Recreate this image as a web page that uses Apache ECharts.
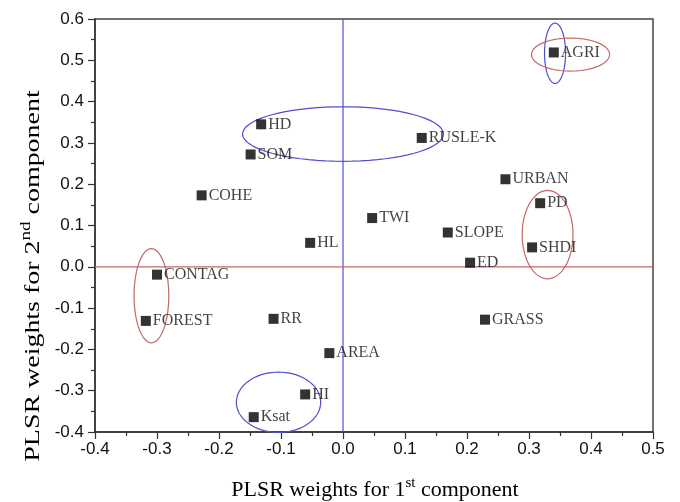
<!DOCTYPE html>
<html>
<head>
<meta charset="utf-8">
<script src="https://cdn.jsdelivr.net/npm/echarts@6/dist/echarts.min.js"></script>
<style>html,body{margin:0;padding:0;background:#fff}#c{width:680px;height:502px}</style>
</head>
<body>
<div id="c"></div>
<script>
// Variable names and their PLSR weights
var names = ['HD','SOM','COHE','HL','TWI','AGRI','RUSLE-K','URBAN','PD','SLOPE','SHDI','ED','GRASS','CONTAG','FOREST','RR','AREA','HI','Ksat'];
var w1 = [-0.132,-0.149,-0.228,-0.053,0.047,0.340,0.127,0.262,0.318,0.169,0.305,0.205,0.229,-0.300,-0.318,-0.112,-0.022,-0.061,-0.144];
var w2 = [0.345,0.272,0.173,0.058,0.118,0.519,0.312,0.212,0.154,0.083,0.047,0.010,-0.128,-0.019,-0.131,-0.126,-0.209,-0.309,-0.364];

// Highlight ellipses (centre and radii in data units)
var ellCx = [0.000, 0.342, 0.367, 0.330, -0.309, -0.104];
var ellCy = [0.3215, 0.517, 0.514, 0.078, -0.070, -0.328];
var ellRx = [0.162, 0.017, 0.063, 0.041, 0.028, 0.068];
var ellRy = [0.066, 0.073, 0.040, 0.107, 0.114, 0.073];
var ellColor = ['blue','blue','red','red','red','blue'];

var xTicks = [-0.4,-0.3,-0.2,-0.1,0.0,0.1,0.2,0.3,0.4,0.5];
var yTicks = [-0.4,-0.3,-0.2,-0.1,0.0,0.1,0.2,0.3,0.4,0.5,0.6];

// Reference lines: x = 0 (blue, vertical) and y = 0 (red, horizontal)
var refLines = [['v', 0], ['h', 0]];

var BLUE = '#4f4fd2', RED = '#c46868';

var pts = names.map(function(n,i){ return {name:n, value:[w1[i], w2[i]]}; });
var ells = ellCx.map(function(c,i){ return [c, ellCy[i], ellRx[i], ellRy[i], i]; });
var XMIN = xTicks[0], XMAX = xTicks[xTicks.length-1], YMIN = yTicks[0], YMAX = yTicks[yTicks.length-1];

var chart = echarts.init(document.getElementById('c'), null, {renderer:'canvas'});
var axisCommon = {
  axisLine:{show:true, onZero:false, lineStyle:{color:'#333', width:1.5}},
  axisTick:{show:true, inside:false, length:7, lineStyle:{color:'#333', width:1.2}},
  minorTick:{show:true, splitNumber:2, length:4, lineStyle:{color:'#333', width:1.2}},
  splitLine:{show:false},
  axisLabel:{fontFamily:'Liberation Sans', fontSize:17, color:'#111', formatter:function(v){return v.toFixed(1);}}
};
var titleRich = {
  a:{fontFamily:'Liberation Serif', fontSize:22, color:'#111'},
  s:{fontFamily:'Liberation Serif', fontSize:15, color:'#111', padding:[0,0,14,0]}
};
chart.setOption({
  animation:false,
  grid:{left:95, right:27, top:19, bottom:70, show:true, borderColor:'#444', borderWidth:1.5},
  xAxis: Object.assign({}, axisCommon, {
    type:'value', min:XMIN, max:XMAX, interval:0.1,
    axisLabel:Object.assign({}, axisCommon.axisLabel, {margin:9})
  }),
  yAxis: Object.assign({}, axisCommon, {
    type:'value', min:YMIN, max:YMAX, interval:0.1,
    axisLabel:Object.assign({}, axisCommon.axisLabel, {margin:11})
  }),
  graphic:[
    {type:'text', x:375, y:490, silent:true,
     style:{text:'{a|PLSR weights for 1}{s|st}{a| component}', rich:titleRich, align:'center', verticalAlign:'middle'}},
    {type:'text', x:33, y:276, rotation:Math.PI/2, scaleX:1.27, silent:true,
     style:{text:'{a|PLSR weights for 2}{s|nd}{a| component}', rich:titleRich, align:'center', verticalAlign:'middle'}}
  ],
  series:[
    {
      type:'custom', z:2, silent:true,
      data:refLines,
      renderItem:function(params, api){
        var kind = refLines[params.dataIndex][0], v = refLines[params.dataIndex][1];
        var p1, p2, col;
        if (kind === 'v') { p1 = api.coord([v, YMIN]); p2 = api.coord([v, YMAX]); col = BLUE; }
        else { p1 = api.coord([XMIN, v]); p2 = api.coord([XMAX, v]); col = RED; }
        return {type:'line', shape:{x1:p1[0], y1:p1[1], x2:p2[0], y2:p2[1]}, style:{stroke:col, lineWidth:1.2}};
      },
      encode:{x:-1, y:-1}
    },
    {
      type:'custom', z:3, silent:true,
      data:ells,
      renderItem:function(params, api){
        var cx = api.value(0), cy = api.value(1), rx = api.value(2), ry = api.value(3), k = api.value(4);
        var points = [];
        for (var t=0; t<=72; t++){
          var a = t/72*Math.PI*2;
          points.push(api.coord([cx + rx*Math.cos(a), cy + ry*Math.sin(a)]));
        }
        return {type:'polyline', shape:{points:points}, style:{fill:'none', stroke: ellColor[k]==='red'?RED:BLUE, lineWidth:1.2}};
      }
    },
    {
      type:'scatter', symbol:'rect', symbolSize:10, z:5,
      itemStyle:{color:'#000'},
      label:{show:true, position:'right', distance:2, formatter:'{b}', fontFamily:'Liberation Serif', fontSize:16, color:'#111'},
      data:pts
    }
  ]
});
</script>
</body>
</html>
